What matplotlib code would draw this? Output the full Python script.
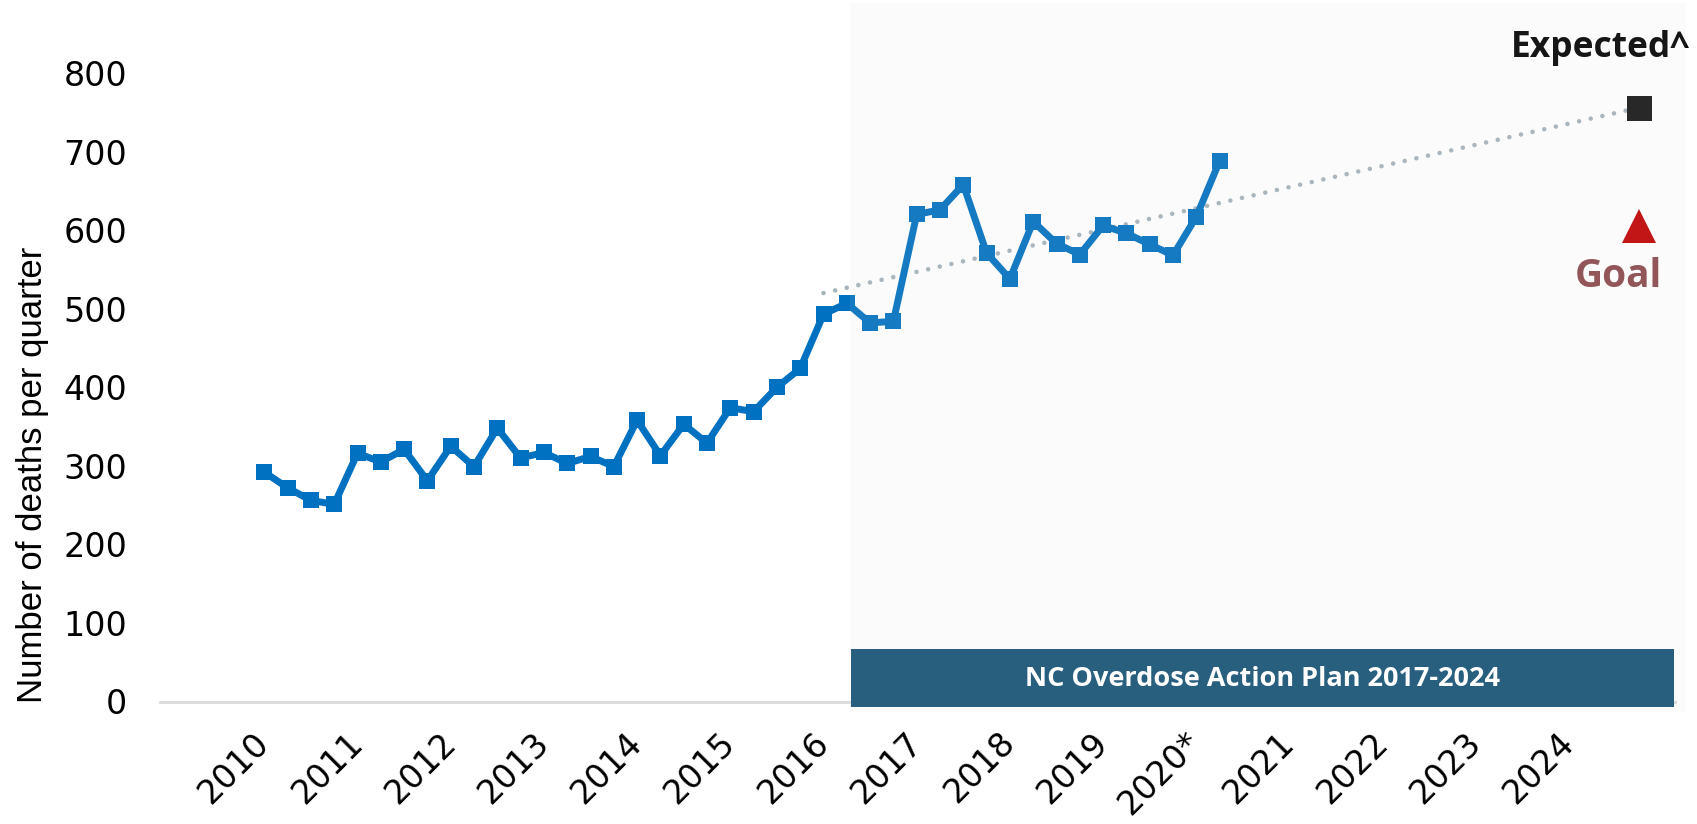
import matplotlib
matplotlib.use("Agg")
import matplotlib.pyplot as plt
from matplotlib.patches import Rectangle
import numpy as np

# ---- data ----
years = list(range(2010, 2025))
year_labels = ["2010", "2011", "2012", "2013", "2014", "2015", "2016", "2017",
               "2018", "2019", "2020*", "2021", "2022", "2023", "2024"]
quarters = [f"{y} Q{q}" for y in years for q in range(1, 5)]

# quarterly overdose deaths, 2010 Q1 .. 2020 Q2
deaths = [292, 272, 256, 251, 316, 305, 321, 281,
          325, 299, 348, 310, 317, 303, 312, 299,
          358, 313, 353, 329, 374, 369, 400, 424,
          493, 507, 482, 484, 620, 626, 658, 571,
          538, 611, 583, 569, 606, 596, 582, 568,
          617, 688]

trend_q = ["2016 Q1", "2024 Q4"]
trend_vals = [520, 756]
expected_q = "2024 Q4"
expected_val = 756
goal_val = 605

W, H = 1697, 824
fig = plt.figure(figsize=(W / 100, H / 100), dpi=100)
fig.patch.set_facecolor("white")

ax_left, ax_right = 160, 1675
ax_top, ax_bot = 3, 701.5
ax = fig.add_axes([ax_left / W, 1 - ax_bot / H, (ax_right - ax_left) / W, (ax_bot - ax_top) / H])
ax.set_facecolor("none")

qx = {q: i for i, q in enumerate(quarters)}
x = np.arange(len(deaths))

ax.plot(x, deaths, color="#0070C0", lw=5.0, marker="s", ms=11, mew=0,
        solid_joinstyle="miter", zorder=3)
ax.plot([qx[q] for q in trend_q], trend_vals, color="#A5B3BB", lw=3.3,
        linestyle=(0, (0.001, 2.6)), dash_capstyle="round", zorder=2)
ax.plot([qx[expected_q]], [expected_val], marker="s", ms=18, mew=0,
        color="#141414", ls="none", zorder=4)
ax.plot([qx[expected_q]], [goal_val], marker="^", ms=24, mew=0,
        color="#C00000", ls="none", zorder=4)

ax.annotate("Expected^", xy=(qx[expected_q], expected_val), xytext=(-28, 43),
            textcoords="offset points", ha="center", va="center",
            fontsize=25.5, fontweight="bold", family="Open Sans", color="black",
            annotation_clip=False)
ax.annotate("Goal", xy=(qx[expected_q], goal_val), xytext=(-15, -36),
            textcoords="offset points", ha="center", va="center",
            fontsize=28, fontweight="bold", family="Open Sans", color="#8B474A",
            annotation_clip=False)

px_per_q = 23.3
x0_px = 264.3
ax.set_xlim((ax_left - x0_px) / px_per_q, (ax_right - x0_px) / px_per_q)
px_per_unit = 0.7855
ax.set_ylim(0, (ax_bot - ax_top) / px_per_unit)

ax.set_yticks(range(0, 801, 100))
ax.set_yticklabels([str(v) for v in range(0, 801, 100)], fontsize=24,
                   family="DejaVu Sans")
ax.tick_params(axis="y", length=0, pad=23.8)

ax.set_xticks([qx[f"{y} Q1"] for y in years])
ax.set_xticklabels(year_labels, rotation=45, ha="right", va="center",
                   rotation_mode="anchor", fontsize=24, family="DejaVu Sans")
ax.tick_params(axis="x", length=0, pad=26)

for s in ["top", "right", "left"]:
    ax.spines[s].set_visible(False)
ax.spines["bottom"].set_color("#D9D9D9")
ax.spines["bottom"].set_linewidth(2)

ax.set_ylabel("Number of deaths per quarter", fontsize=25, family="Liberation Sans")
ax.yaxis.set_label_coords((49 - ax_left) / (ax_right - ax_left),
                          (ax_bot - 475) / (ax_bot - ax_top))

# shaded plan period overlay
sx0, sx1, sy0, sy1 = 850, 1686, 3, 712
fig.patches.append(Rectangle((sx0 / W, 1 - sy1 / H), (sx1 - sx0) / W, (sy1 - sy0) / H,
                             transform=fig.transFigure, facecolor="#D9D9D9",
                             alpha=0.1, edgecolor="none", zorder=1))
# dark label box
bx0, bx1, by0, by1 = 850.7, 1674, 649, 707
fig.patches.append(Rectangle((bx0 / W, 1 - by1 / H), (bx1 - bx0) / W, (by1 - by0) / H,
                             transform=fig.transFigure, facecolor="#285E7E",
                             edgecolor="none", zorder=2))
fig.text((bx0 + bx1) / 2 / W, 1 - 678.6 / H, "NC Overdose Action Plan 2017-2024",
         ha="center", va="center", color="white", fontsize=19.5, fontweight="bold",
         family="Open Sans", zorder=3)

fig.savefig("out.png", dpi=100)
